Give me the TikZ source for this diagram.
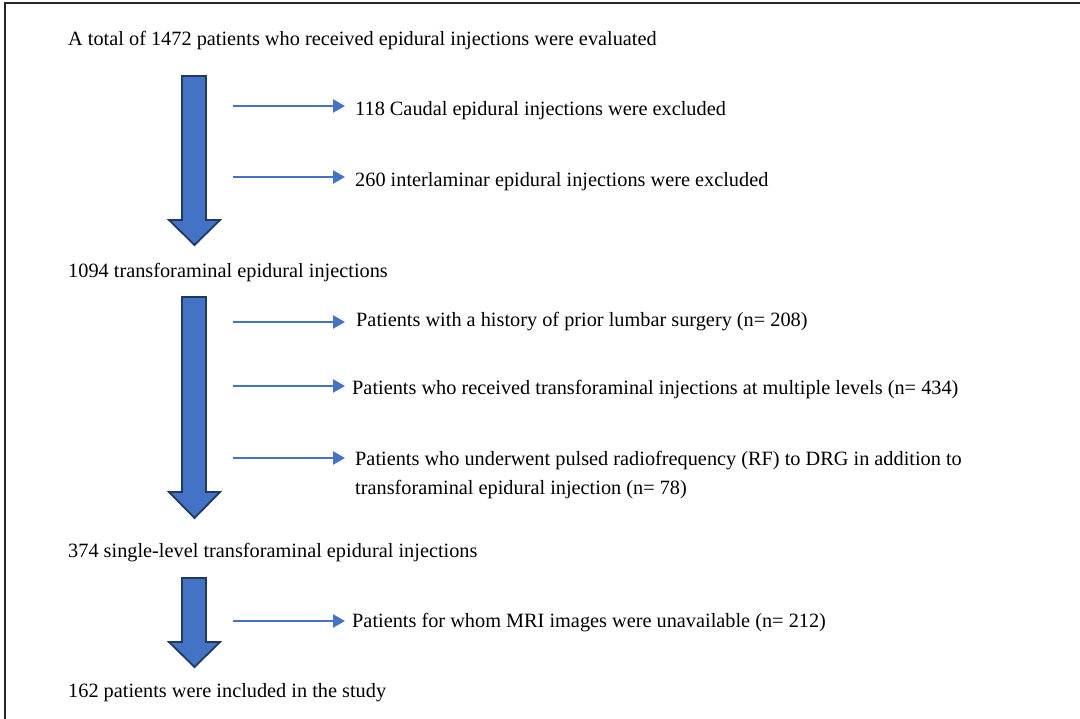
\documentclass[tikz,border=0pt]{standalone}
\usepackage{fontspec}
\setmainfont{Liberation Serif}
\usetikzlibrary{arrows.meta}
\definecolor{boxblue}{HTML}{4472C4}
\definecolor{navy}{HTML}{1F3864}
\tikzset{
  txt/.style={anchor=base west, inner sep=0pt, font=\fontsize{20.3}{24}\selectfont, text=black},
  thin/.style={draw=boxblue, line width=2.3pt, -{Triangle[length=12pt,width=13pt]}},
  blockarrow/.style={fill=boxblue, draw=navy, line width=1.8pt, line join=miter},
}
\begin{document}
\begin{tikzpicture}[x=1pt,y=-1pt]
\useasboundingbox (0,0) rectangle (1080,719);
\fill[white] (0,0) rectangle (1080,719);
% frame
\draw[black!85, line width=1.6pt] (1080,3) -- (5,3) -- (5,719);

% texts
\node[txt] (t0) at (68,46) {A total of 1472 patients who received epidural injections were evaluated};
\node[txt] (e1) at (355,116) {118 Caudal epidural injections were excluded};
\node[txt] (e2) at (355,187) {260 interlaminar epidural injections were excluded};
\node[txt] (t1) at (68,278) {1094 transforaminal epidural injections};
\node[txt] (p1) at (356,327) {Patients with a history of prior lumbar surgery (n= 208)};
\node[txt] (p2) at (352,395) {Patients who received transforaminal injections at multiple levels (n= 434)};
\node[txt] (p3) at (355,465) {Patients who underwent pulsed radiofrequency (RF) to DRG in addition to};
\node[txt] (p3b) at (355,494) {transforaminal epidural injection (n= 78)};
\node[txt] (t2) at (68,557) {374 single-level transforaminal epidural injections};
\node[txt] (p4) at (352,627) {Patients for whom MRI images were unavailable (n= 212)};
\node[txt] (t3) at (68,697) {162 patients were included in the study};

% block arrows
\draw[blockarrow] (182,76) -- (206,76) -- (206,220) -- (220,220) -- (194.5,245) -- (169,220) -- (182,220) -- cycle;
\draw[blockarrow] (182,297) -- (206,297) -- (206,492) -- (220,492) -- (194.5,518) -- (169,492) -- (182,492) -- cycle;
\draw[blockarrow] (182,578) -- (206,578) -- (206,642) -- (220,642) -- (194.5,667) -- (169,642) -- (182,642) -- cycle;

% thin arrows
\coordinate (a1s) at (233,106); \coordinate (a1e) at (345,106);
\coordinate (a2s) at (233,177); \coordinate (a2e) at (345,177);
\coordinate (a3s) at (233,322); \coordinate (a3e) at (345,322);
\coordinate (a4s) at (233,386); \coordinate (a4e) at (345,386);
\coordinate (a5s) at (233,458); \coordinate (a5e) at (345,458);
\coordinate (a6s) at (233,621); \coordinate (a6e) at (345,621);
\draw[thin] (a1s) -- (a1e);
\draw[thin] (a2s) -- (a2e);
\draw[thin] (a3s) -- (a3e);
\draw[thin] (a4s) -- (a4e);
\draw[thin] (a5s) -- (a5e);
\draw[thin] (a6s) -- (a6e);
\end{tikzpicture}
\end{document}
